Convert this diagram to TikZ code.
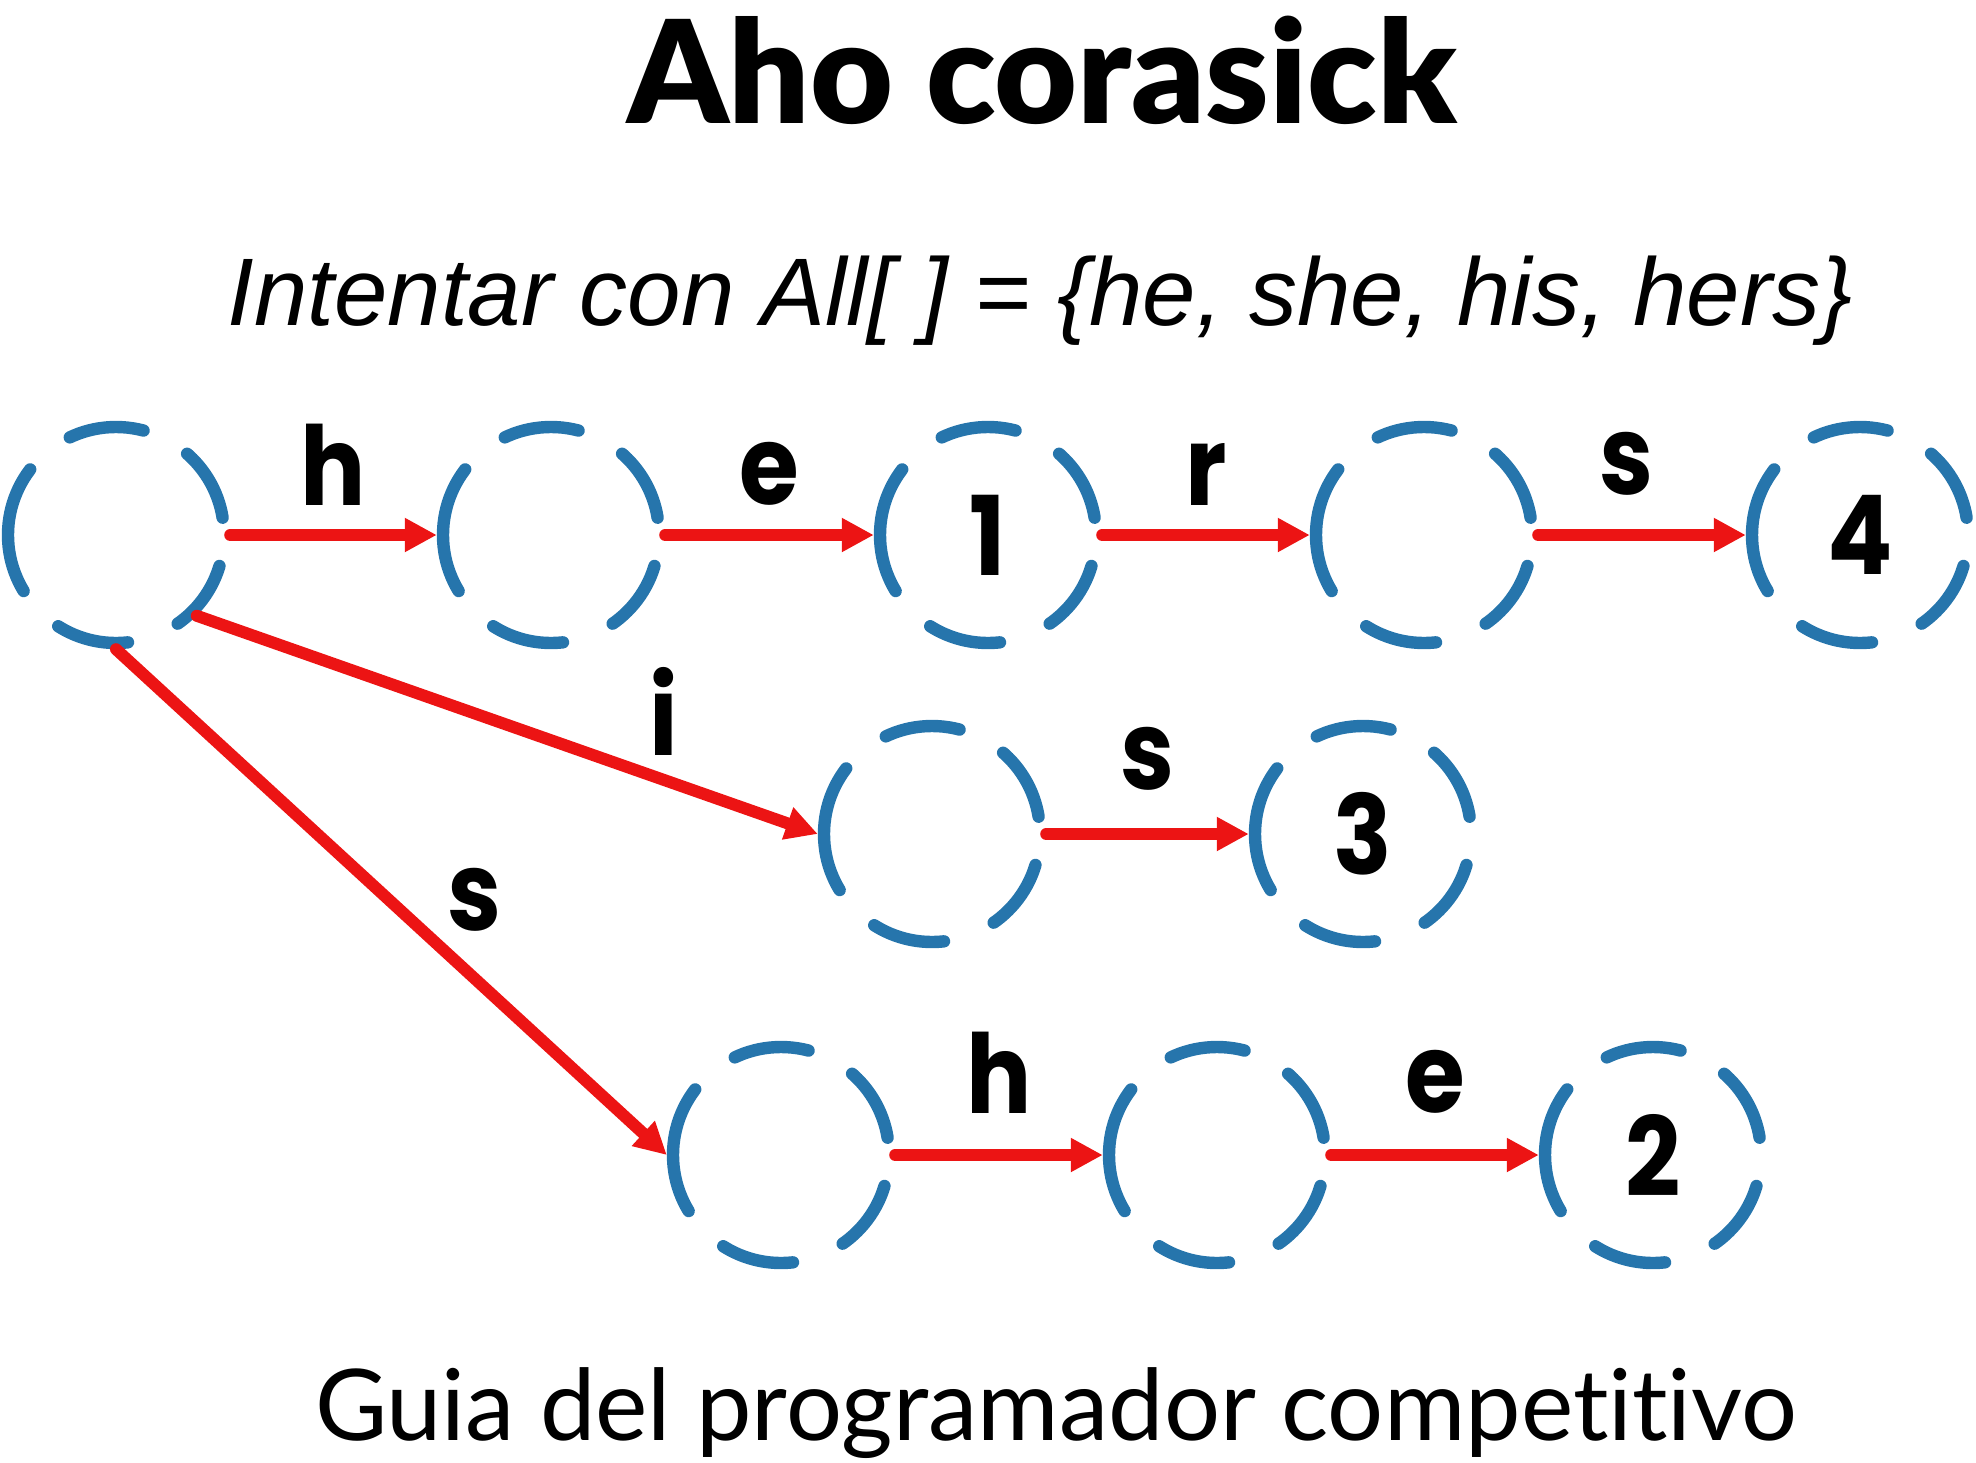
\documentclass[tikz,border=0pt]{standalone}
\usepackage{fontspec}
\setmainfont{Lato}[Ligatures=NoCommon]
\newfontfamily\titlefont{Lato Black}
\newfontfamily\wordsfont{Liberation Sans}
\newfontfamily\statefont{Poppins}[FakeStretch=0.88]
\usetikzlibrary{arrows.meta}
\definecolor{stateblue}{RGB}{38,117,172}
\definecolor{edgered}{RGB}{236,20,20}

\begin{document}
\begin{tikzpicture}[x=0.5pt,y=-0.5pt,
  state/.style={circle,minimum size=108pt,inner sep=0pt,draw=stateblue,line width=6.2pt,line cap=round,
    dash pattern=on 36.3pt off 24.5pt on 37.3pt off 24.9pt on 37.8pt off 25.7pt on 64.7pt off 24.9pt on 36.5pt off 26.8pt,
    dash phase=52.1pt,font=\statefont\bfseries\fontsize{55}{55}\selectfont},
  trans/.style={draw=edgered,line width=6pt,line cap=round,-{Triangle[length=16pt,width=16pt]}},
  letter/.style={font=\statefont\bfseries\fontsize{55}{55}\selectfont,inner sep=0pt}]
\useasboundingbox (0,0) rectangle (1976,1462);
% titles
\node[font=\titlefont\fontsize{71.5}{71.5}\selectfont,anchor=base] (title) at (1042,123) {Aho corasick};
\node[font=\wordsfont\itshape\fontsize{48}{48}\selectfont,anchor=base] (words) at (1040,325) {Intentar con All[ ] = \{he, she, his, hers\}};
\node[font=\fontsize{49.5}{49.5}\selectfont,anchor=base] (footer) at (1056,1440) {Guia del programador competitivo};
% states of the trie
\node[state] (root) at (116,535) {};
\node[state] (h) at (551,535) {};
\node[state] (he) at (988,535) {1};
\node[state] (her) at (1424,535) {};
\node[state] (hers) at (1860,535) {4};
\node[state] (hi) at (932,834) {};
\node[state] (his) at (1363,834) {3};
\node[state] (s) at (781,1155) {};
\node[state] (sh) at (1217,1155) {};
\node[state] (she) at (1653,1155) {2};
% transitions
\draw[trans] (root) -- node[letter,above=12pt] {h} (h);
\draw[trans] (h) -- node[letter,above=12pt] {e} (he);
\draw[trans] (he) -- node[letter,above=12pt] {r} (her);
\draw[trans] (her) -- node[letter,above=17pt,xshift=-8pt] {s} (hers);
\draw[trans] (root.-45) -- node[letter,pos=0.717,xshift=10.8pt,yshift=30.6pt] {i} (hi.west);
\draw[trans] (hi) -- node[letter,above=19pt] {s} (his);
\draw[trans] (root.south) -- node[letter,pos=0.58,xshift=19.5pt,yshift=21.5pt] {s} (s.west);
\draw[trans] (s) -- node[letter,above=18pt] {h} (sh);
\draw[trans] (sh) -- node[letter,above=18pt] {e} (she);
\end{tikzpicture}
\end{document}
